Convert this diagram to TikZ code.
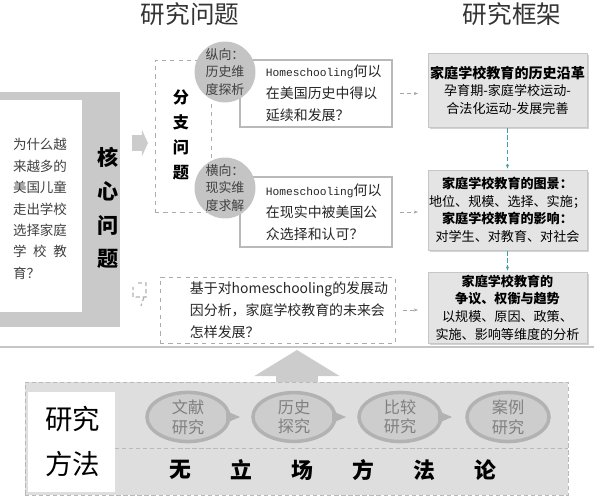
\documentclass[tikz,border=0pt]{standalone}
\usepackage{fontspec}
\setmainfont{Noto Sans CJK SC}
\setmonofont{Liberation Mono}
\usetikzlibrary{arrows.meta}
\usetikzlibrary{positioning}
\usetikzlibrary{shapes.geometric}
\usetikzlibrary{shadows}
\definecolor{coregray}{HTML}{C9C9C9}
\definecolor{circlegray}{HTML}{C4C4C4}
\definecolor{framefill}{HTML}{E4E4E4}
\definecolor{panelgray}{HTML}{DEDEDE}
\definecolor{ringgray}{HTML}{B2B2B2}
\definecolor{ovalgray}{HTML}{CDCDCD}
\definecolor{linkteal}{HTML}{3E9FA6}
\newcommand{\hs}{{\ttfamily\fontsize{8pt}{0pt}\selectfont Homeschooling}}
\newcommand{\methodoval}[3]{\node[oval] (#1) at (#2,417) {#3}}

\begin{document}
\begin{tikzpicture}[
    x=0.025cm, y=-0.025cm,
    every node/.style={inner sep=0pt, outer sep=0pt},
    title/.style={font=\fontsize{17.5pt}{20pt}\selectfont, text=black!80},
    qbox/.style={rectangle, fill=white, draw=gray!55, line width=1.1pt, minimum width=3.8cm},
    qtext/.style={align=left, font=\fontsize{9.9pt}{15.6pt}\selectfont, text=black!85},
    dimcircle/.style={circle, fill=circlegray, minimum size=1.45cm, align=center,
                      font=\fontsize{9.2pt}{12.4pt}\selectfont, text=black!75},
    frame/.style={rectangle, fill=framefill, draw=gray!45, minimum width=3.975cm, align=center,
                  font=\fontsize{9.3pt}{12.5pt}\selectfont,
                  drop shadow={shadow xshift=1.5pt, shadow yshift=-1.5pt, opacity=0.35}},
    link/.style={densely dashed, gray!70, -{Stealth[length=3pt]}, shorten <=0.2cm, shorten >=0.25cm},
    down/.style={densely dashed, linkteal, -{Stealth[length=3pt]}, shorten <=1pt, shorten >=1pt},
    oval/.style={ellipse, fill=ovalgray, draw=ringgray, line width=2.5pt, minimum width=2.05cm,
                 minimum height=1.05cm, align=center, font=\fontsize{11.5pt}{14pt}\selectfont, text=black!50},
    wordchar/.style={font=\fontsize{15.5pt}{16pt}\selectfont\bfseries}
  ]
  \useasboundingbox (0,0) rectangle (594,498);

  % titles
  \node[title] (title1) at (190,14) {研究问题};
  \node[title] (title2) at (512,14) {研究框架};

  % core question
  \node[fill=coregray, minimum width=3cm, minimum height=5.875cm] (core) at (60,209.5) {};
  \node[fill=white, minimum width=2.05cm, minimum height=5.3cm] (corebox) at (41,206) {};
  \node[align=left, font=\fontsize{9.6pt}{15.2pt}\selectfont, text=black!75] (coretext) at (40,209)
    {为什么越\\来越多的\\美国儿童\\走出学校\\选择家庭\\\makebox[38.4pt][s]{学\hfil 校\hfil 教}\\育？};
  \node[align=center, font=\fontsize{15pt}{24pt}\selectfont\bfseries] (corelabel) at (108,208) {核\\心\\问\\题};

  % branch questions
  \node[draw=gray!65, dashed, minimum width=1.4cm, minimum height=3.8cm] (branch) at (183,136) {};
  \node[align=center, font=\fontsize{11.5pt}{17.7pt}\selectfont\bfseries] (branchlabel) at (181,135) {分\\支\\问\\题};
  \draw[line width=0.4cm, gray!40, -{Triangle[length=0.15cm, width=0.65cm]}, shorten <=0.3cm, shorten >=0.175cm]
    ([yshift=1.66cm]core.east) -- ([yshift=1.66cm]core.east -| branch.west);

  \node[qbox, minimum height=1.675cm] (q1) at (316,93.5) {};
  \node[qtext, right=0.65cm of q1.west] (q1t) {\hs 何以\\在美国历史中得以\\延续和发展？};
  \node[qbox, minimum height=1.75cm] (q2) at (316,212) {};
  \node[qtext, right=0.65cm of q2.west] (q2t) {\hs 何以\\在现实中被美国公\\众选择和认可？};

  \node[dimcircle] (c1) at (225,72) {纵向：\\历史维\\度探析};
  \node[dimcircle] (c2) at (225,188) {横向：\\现实维\\度求解};

  % future question
  \node[draw=gray!65, dashed, minimum width=5.875cm, minimum height=1.65cm] (q3) at (277.5,310) {};
  \node[qtext, right=0.75cm of q3.west] (q3t) {基于对homeschooling的发展动\\因分析，家庭学校教育的未来会\\怎样发展？};
  \draw[gray!60, densely dashed, line width=0.8pt]
    (138,283) -- (146,283) -- (146,297) -- (133,297) -- (133,287) (144,297) -- (141,306);

  % framework
  \node[frame, minimum height=1.85cm] (f1) at (507.5,90)
    {{\fontsize{10pt}{12pt}\selectfont\bfseries 家庭学校教育的历史沿革}\\孕育期-家庭学校运动-\\合法化运动-发展完善};
  \node[frame, minimum height=2cm] (f2) at (507.5,210)
    {\textbf{家庭学校教育的图景：}\\地位、规模、选择、实施；\\\textbf{家庭学校教育的影响：}\\对学生、对教育、对社会};
  \node[frame, minimum height=1.775cm] (f3) at (507.5,307.5)
    {\textbf{家庭学校教育的}\\\textbf{争议、权衡与趋势}\\以规模、原因、政策、\\实施、影响等维度的分析};

  \draw[link] (q1.east) -- (q1.east -| f1.west);
  \draw[link] (q2.east) -- (q2.east -| f2.west);
  \draw[link] (q3.east) -- (q3.east -| f3.west);
  \draw[down] (f1.south) -- (f2.north);
  \draw[down] (f2.south) -- (f3.north);

  \draw[gray!45, line width=0.8pt] (0,347) -- (594,347);

  % methods
  \node[fill=panelgray, draw=gray!55, densely dashed, minimum width=13.575cm, minimum height=2.825cm] (methods) at (296.5,438.5) {};
  \node[fill=white, minimum width=2.175cm, minimum height=2.5cm] (methodbox) at (71.5,442) {};
  \node[align=center, font=\fontsize{19.5pt}{32pt}\selectfont] (methodlabel) at (73,442) {研究\\方法};
  \draw[gray!55, densely dashed] (methodbox.east |- 0,448) -- (methods.east |- 0,448);

  \coordinate (uptip) at (297,350);
  \draw[gray!40, line width=1.05cm, -{Triangle[length=0.65cm, width=2.1cm]}] (methods.north -| uptip) -- (uptip);

  \methodoval{m1}{188}{文献\\研究};
  \methodoval{m2}{294}{历史\\探究};
  \methodoval{m3}{400}{比较\\研究};
  \methodoval{m4}{508}{案例\\研究};
  \foreach \m in {m1,m2,m3}
    \fill[ringgray] (\m.east) ++(-3,-6) -- ++(14,6) -- ++(-14,6) -- cycle;

  \foreach \ch [count=\i] in {无,立,场,方,法,论}
    \node[wordchar] (w\i) at (119+61*\i,470) {\ch};
\end{tikzpicture}
\end{document}
